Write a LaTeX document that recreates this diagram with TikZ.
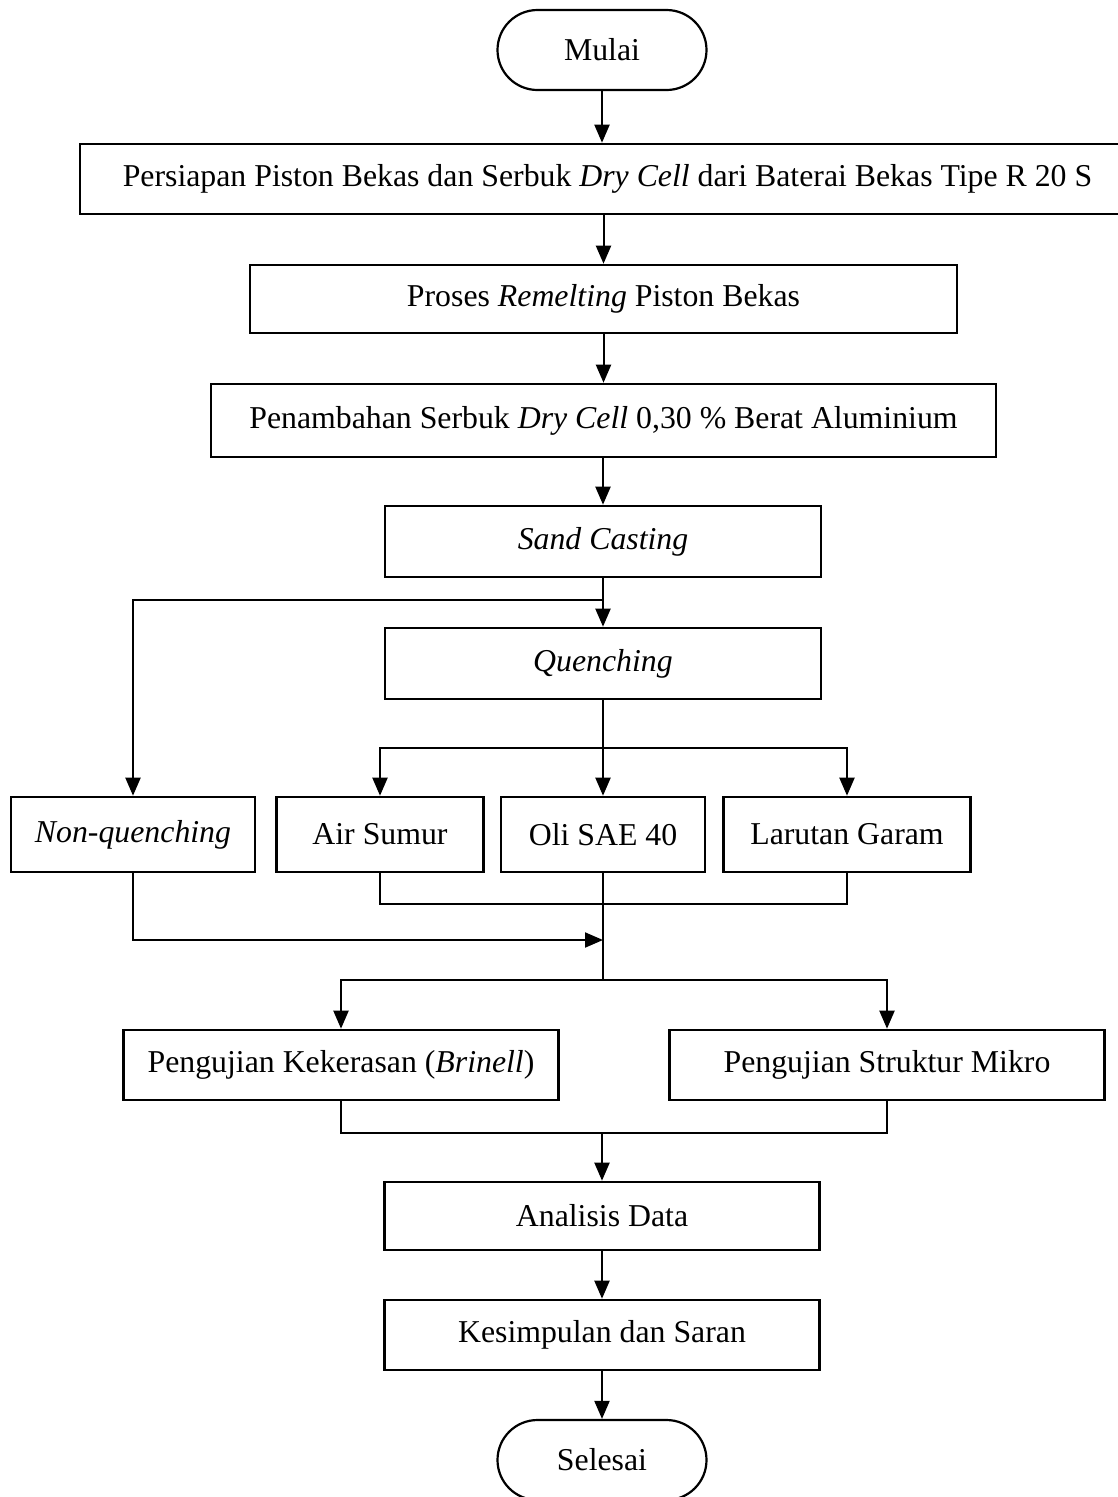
\documentclass[tikz,border=0pt]{standalone}
\usepackage{fontspec}
\setmainfont{Liberation Serif}
\usetikzlibrary{arrows.meta,shapes.misc}
\begin{document}
\begin{tikzpicture}[x=1pt,y=-1pt,
  box/.style={draw,line width=2.6pt,rectangle,inner sep=0pt,align=center,font=\fontsize{31.8}{38}\selectfont},
  term/.style={draw,line width=2.2pt,rounded rectangle,rounded rectangle arc length=180,inner sep=0pt,minimum width=209pt,minimum height=80pt,font=\fontsize{31.8}{38}\selectfont},
  conn/.style={line width=2pt},
  arr/.style={conn,-{Triangle[length=18pt,width=15pt]}}]
\useasboundingbox (0,0) rectangle (1118,1497);

\node[term] (mulai) at (602,50) {Mulai};
\node[box,minimum width=1055pt,minimum height=70pt] (b1) at (607.5,179) {Persiapan Piston Bekas dan Serbuk \textit{Dry Cell} dari Baterai Bekas Tipe R 20 S};
\node[box,minimum width=707pt,minimum height=68pt] (b2) at (603.5,299) {Proses \textit{Remelting} Piston Bekas};
\node[box,minimum width=785pt,minimum height=73pt] (b3) at (603.5,420.5) {Penambahan Serbuk \textit{Dry Cell} 0,30 \% Berat Aluminium};
\node[box,minimum width=436pt,minimum height=71pt] (b4) at (603,541.5) {\textit{Sand Casting}};
\node[box,minimum width=436pt,minimum height=71pt] (q) at (603,663.5) {\textit{Quenching}};
\node[box,minimum width=244pt,minimum height=75pt] (nq) at (133,834.5) {\textit{Non-quenching}};
\node[box,minimum width=207pt,minimum height=75pt] (air) at (380,834.5) {Air Sumur};
\node[box,minimum width=204pt,minimum height=75pt] (oli) at (603,834.5) {Oli SAE 40};
\node[box,minimum width=247pt,minimum height=75pt] (lar) at (847,834.5) {Larutan Garam};
\node[box,minimum width=435pt,minimum height=70pt] (pk) at (341,1065) {Pengujian Kekerasan (\textit{Brinell})};
\node[box,minimum width=435pt,minimum height=70pt] (ps) at (887,1065) {Pengujian Struktur Mikro};
\node[box,minimum width=435pt,minimum height=68pt] (an) at (602,1216) {Analisis Data};
\node[box,minimum width=435pt,minimum height=70pt] (kes) at (602,1335) {Kesimpulan dan Saran};
\node[term] (sel) at (602,1460) {Selesai};

\coordinate (j1) at (603,600);
\coordinate (j2) at (603,748);
\coordinate (j3) at (603,904);
\coordinate (j4) at (603,940);
\coordinate (j5) at (603,980);
\coordinate (j6) at (602,1133);

\draw[arr] (mulai.south) -- (mulai.south |- b1.north);
\draw[arr] (b2.north |- b1.south) -- (b2.north);
\draw[arr] (b3.north |- b2.south) -- (b3.north);
\draw[arr] (b4.north |- b3.south) -- (b4.north);
\draw[conn] (b4.south) -- (j1);
\draw[arr] (j1) -- (q.north);
\draw[arr] (j1) -| (nq.north);
\draw[arr] (q.south) -- (oli.north);
\draw[arr] (j2) -| (air.north);
\draw[arr] (j2) -| (lar.north);
\draw[conn] (air.south) |- (j3) -| (lar.south);
\draw[arr] (nq.south) |- (j4);
\draw[conn] (oli.south) -- (j5);
\draw[arr] (j5) -| (pk.north);
\draw[arr] (j5) -| (ps.north);
\draw[conn] (pk.south) |- (j6) -| (ps.south);
\draw[arr] (j6) -- (an.north);
\draw[arr] (an.south) -- (kes.north);
\draw[arr] (kes.south) -- (sel.north);
\end{tikzpicture}
\end{document}
